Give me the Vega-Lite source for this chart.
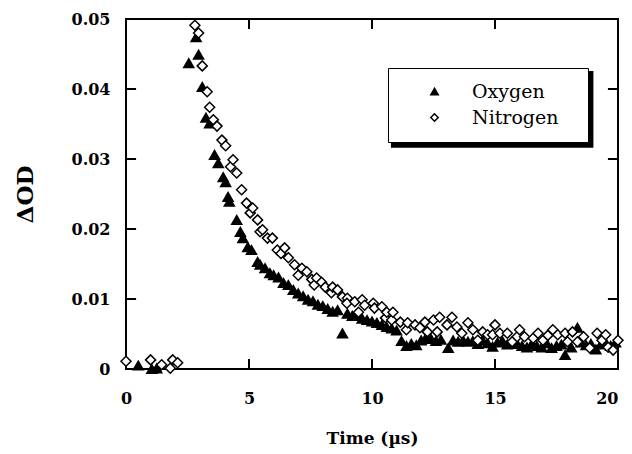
{
  "$schema": "https://vega.github.io/schema/vega-lite/v6.json",
  "width": 492,
  "height": 350,
  "autosize": {"type": "none"},
  "padding": {"left": 126, "top": 19, "right": 14, "bottom": 85},
  "background": "white",
  "config": {
    "view": {"stroke": "black", "strokeWidth": 2},
    "legend": {"strokeColor": "black", "fillColor": "white"},
    "axis": {
      "domain": false, "grid": false, "ticks": false,
      "labelFont": "DejaVu Serif", "labelFontWeight": "bold", "labelFontSize": 16, "labelColor": "black",
      "titleFont": "DejaVu Serif", "titleFontWeight": "bold", "titleColor": "black"
    }
  },
  "datasets": {
    "xt": [{"v": 5}, {"v": 10}, {"v": 15}],
    "yt": [{"v": 0.01}, {"v": 0.02}, {"v": 0.03}, {"v": 0.04}],
    "obs": [
      {"t": 0.5, "od": 0.0005, "gas": "Oxygen"},
      {"t": 1.05, "od": 0.0000, "gas": "Oxygen"},
      {"t": 1.25, "od": 0.0001, "gas": "Oxygen"},
      {"t": 2.55, "od": 0.0437, "gas": "Oxygen"},
      {"t": 2.85, "od": 0.0474, "gas": "Oxygen"},
      {"t": 2.95, "od": 0.0449, "gas": "Oxygen"},
      {"t": 3.1, "od": 0.0403, "gas": "Oxygen"},
      {"t": 3.25, "od": 0.0359, "gas": "Oxygen"},
      {"t": 3.4, "od": 0.0351, "gas": "Oxygen"},
      {"t": 3.6, "od": 0.0306, "gas": "Oxygen"},
      {"t": 3.75, "od": 0.0294, "gas": "Oxygen"},
      {"t": 3.95, "od": 0.0274, "gas": "Oxygen"},
      {"t": 4.05, "od": 0.0267, "gas": "Oxygen"},
      {"t": 4.15, "od": 0.0246, "gas": "Oxygen"},
      {"t": 4.2, "od": 0.0239, "gas": "Oxygen"},
      {"t": 4.5, "od": 0.0213, "gas": "Oxygen"},
      {"t": 4.65, "od": 0.0196, "gas": "Oxygen"},
      {"t": 4.75, "od": 0.0187, "gas": "Oxygen"},
      {"t": 4.95, "od": 0.0174, "gas": "Oxygen"},
      {"t": 5.1, "od": 0.0170, "gas": "Oxygen"},
      {"t": 5.35, "od": 0.0153, "gas": "Oxygen"},
      {"t": 5.45, "od": 0.0149, "gas": "Oxygen"},
      {"t": 5.65, "od": 0.0144, "gas": "Oxygen"},
      {"t": 5.85, "od": 0.0137, "gas": "Oxygen"},
      {"t": 6.0, "od": 0.0134, "gas": "Oxygen"},
      {"t": 6.2, "od": 0.0131, "gas": "Oxygen"},
      {"t": 6.4, "od": 0.0123, "gas": "Oxygen"},
      {"t": 6.6, "od": 0.0120, "gas": "Oxygen"},
      {"t": 6.8, "od": 0.0113, "gas": "Oxygen"},
      {"t": 7.0, "od": 0.0108, "gas": "Oxygen"},
      {"t": 7.2, "od": 0.0104, "gas": "Oxygen"},
      {"t": 7.4, "od": 0.0099, "gas": "Oxygen"},
      {"t": 7.6, "od": 0.0097, "gas": "Oxygen"},
      {"t": 7.8, "od": 0.0092, "gas": "Oxygen"},
      {"t": 8.0, "od": 0.0090, "gas": "Oxygen"},
      {"t": 8.2, "od": 0.0086, "gas": "Oxygen"},
      {"t": 8.4, "od": 0.0082, "gas": "Oxygen"},
      {"t": 8.6, "od": 0.0084, "gas": "Oxygen"},
      {"t": 8.8, "od": 0.0051, "gas": "Oxygen"},
      {"t": 9.0, "od": 0.0079, "gas": "Oxygen"},
      {"t": 9.2, "od": 0.0076, "gas": "Oxygen"},
      {"t": 9.4, "od": 0.0077, "gas": "Oxygen"},
      {"t": 9.6, "od": 0.0072, "gas": "Oxygen"},
      {"t": 9.8, "od": 0.0070, "gas": "Oxygen"},
      {"t": 10.0, "od": 0.0068, "gas": "Oxygen"},
      {"t": 10.2, "od": 0.0066, "gas": "Oxygen"},
      {"t": 10.4, "od": 0.0063, "gas": "Oxygen"},
      {"t": 10.6, "od": 0.0060, "gas": "Oxygen"},
      {"t": 10.8, "od": 0.0058, "gas": "Oxygen"},
      {"t": 11.0, "od": 0.0055, "gas": "Oxygen"},
      {"t": 11.2, "od": 0.0040, "gas": "Oxygen"},
      {"t": 11.4, "od": 0.0033, "gas": "Oxygen"},
      {"t": 11.6, "od": 0.0036, "gas": "Oxygen"},
      {"t": 11.8, "od": 0.0034, "gas": "Oxygen"},
      {"t": 12.0, "od": 0.0041, "gas": "Oxygen"},
      {"t": 12.2, "od": 0.0045, "gas": "Oxygen"},
      {"t": 12.4, "od": 0.0043, "gas": "Oxygen"},
      {"t": 12.6, "od": 0.0040, "gas": "Oxygen"},
      {"t": 12.8, "od": 0.0042, "gas": "Oxygen"},
      {"t": 13.1, "od": 0.0030, "gas": "Oxygen"},
      {"t": 13.3, "od": 0.0041, "gas": "Oxygen"},
      {"t": 13.5, "od": 0.0039, "gas": "Oxygen"},
      {"t": 13.7, "od": 0.0041, "gas": "Oxygen"},
      {"t": 13.9, "od": 0.0039, "gas": "Oxygen"},
      {"t": 14.1, "od": 0.0040, "gas": "Oxygen"},
      {"t": 14.3, "od": 0.0036, "gas": "Oxygen"},
      {"t": 14.5, "od": 0.0041, "gas": "Oxygen"},
      {"t": 14.7, "od": 0.0037, "gas": "Oxygen"},
      {"t": 14.9, "od": 0.0032, "gas": "Oxygen"},
      {"t": 15.1, "od": 0.0038, "gas": "Oxygen"},
      {"t": 15.3, "od": 0.0040, "gas": "Oxygen"},
      {"t": 15.5, "od": 0.0035, "gas": "Oxygen"},
      {"t": 15.7, "od": 0.0038, "gas": "Oxygen"},
      {"t": 15.9, "od": 0.0036, "gas": "Oxygen"},
      {"t": 16.1, "od": 0.0033, "gas": "Oxygen"},
      {"t": 16.3, "od": 0.0031, "gas": "Oxygen"},
      {"t": 16.5, "od": 0.0036, "gas": "Oxygen"},
      {"t": 16.7, "od": 0.0033, "gas": "Oxygen"},
      {"t": 16.9, "od": 0.0031, "gas": "Oxygen"},
      {"t": 17.1, "od": 0.0037, "gas": "Oxygen"},
      {"t": 17.3, "od": 0.0030, "gas": "Oxygen"},
      {"t": 17.5, "od": 0.0033, "gas": "Oxygen"},
      {"t": 17.7, "od": 0.0035, "gas": "Oxygen"},
      {"t": 17.85, "od": 0.0020, "gas": "Oxygen"},
      {"t": 18.1, "od": 0.0031, "gas": "Oxygen"},
      {"t": 18.35, "od": 0.0059, "gas": "Oxygen"},
      {"t": 18.5, "od": 0.0038, "gas": "Oxygen"},
      {"t": 18.7, "od": 0.0034, "gas": "Oxygen"},
      {"t": 18.9, "od": 0.0036, "gas": "Oxygen"},
      {"t": 19.1, "od": 0.0028, "gas": "Oxygen"},
      {"t": 19.3, "od": 0.0035, "gas": "Oxygen"},
      {"t": 19.5, "od": 0.0037, "gas": "Oxygen"},
      {"t": 19.7, "od": 0.0033, "gas": "Oxygen"},
      {"t": 19.9, "od": 0.0038, "gas": "Oxygen"},
      {"t": 0.0, "od": 0.0011, "gas": "Nitrogen"},
      {"t": 1.0, "od": 0.0013, "gas": "Nitrogen"},
      {"t": 1.45, "od": 0.0006, "gas": "Nitrogen"},
      {"t": 1.8, "od": 0.0001, "gas": "Nitrogen"},
      {"t": 1.9, "od": 0.0013, "gas": "Nitrogen"},
      {"t": 2.1, "od": 0.0009, "gas": "Nitrogen"},
      {"t": 2.8, "od": 0.0491, "gas": "Nitrogen"},
      {"t": 2.95, "od": 0.0480, "gas": "Nitrogen"},
      {"t": 3.1, "od": 0.0433, "gas": "Nitrogen"},
      {"t": 3.3, "od": 0.0396, "gas": "Nitrogen"},
      {"t": 3.4, "od": 0.0374, "gas": "Nitrogen"},
      {"t": 3.55, "od": 0.0356, "gas": "Nitrogen"},
      {"t": 3.7, "od": 0.0347, "gas": "Nitrogen"},
      {"t": 3.9, "od": 0.0327, "gas": "Nitrogen"},
      {"t": 4.05, "od": 0.0319, "gas": "Nitrogen"},
      {"t": 4.25, "od": 0.0289, "gas": "Nitrogen"},
      {"t": 4.35, "od": 0.0299, "gas": "Nitrogen"},
      {"t": 4.5, "od": 0.0280, "gas": "Nitrogen"},
      {"t": 4.7, "od": 0.0256, "gas": "Nitrogen"},
      {"t": 4.9, "od": 0.0237, "gas": "Nitrogen"},
      {"t": 5.05, "od": 0.0223, "gas": "Nitrogen"},
      {"t": 5.15, "od": 0.0230, "gas": "Nitrogen"},
      {"t": 5.35, "od": 0.0213, "gas": "Nitrogen"},
      {"t": 5.45, "od": 0.0196, "gas": "Nitrogen"},
      {"t": 5.55, "od": 0.0199, "gas": "Nitrogen"},
      {"t": 5.75, "od": 0.0187, "gas": "Nitrogen"},
      {"t": 5.95, "od": 0.0187, "gas": "Nitrogen"},
      {"t": 6.15, "od": 0.0170, "gas": "Nitrogen"},
      {"t": 6.3, "od": 0.0165, "gas": "Nitrogen"},
      {"t": 6.45, "od": 0.0173, "gas": "Nitrogen"},
      {"t": 6.6, "od": 0.0159, "gas": "Nitrogen"},
      {"t": 6.85, "od": 0.0149, "gas": "Nitrogen"},
      {"t": 7.0, "od": 0.0134, "gas": "Nitrogen"},
      {"t": 7.15, "od": 0.0144, "gas": "Nitrogen"},
      {"t": 7.35, "od": 0.0139, "gas": "Nitrogen"},
      {"t": 7.55, "od": 0.0128, "gas": "Nitrogen"},
      {"t": 7.65, "od": 0.0120, "gas": "Nitrogen"},
      {"t": 7.75, "od": 0.0130, "gas": "Nitrogen"},
      {"t": 7.95, "od": 0.0124, "gas": "Nitrogen"},
      {"t": 8.1, "od": 0.0117, "gas": "Nitrogen"},
      {"t": 8.35, "od": 0.0109, "gas": "Nitrogen"},
      {"t": 8.4, "od": 0.0117, "gas": "Nitrogen"},
      {"t": 8.6, "od": 0.0113, "gas": "Nitrogen"},
      {"t": 8.8, "od": 0.0103, "gas": "Nitrogen"},
      {"t": 9.0, "od": 0.0101, "gas": "Nitrogen"},
      {"t": 8.98, "od": 0.0094, "gas": "Nitrogen"},
      {"t": 9.3, "od": 0.0096, "gas": "Nitrogen"},
      {"t": 9.45, "od": 0.0081, "gas": "Nitrogen"},
      {"t": 9.6, "od": 0.0099, "gas": "Nitrogen"},
      {"t": 9.7, "od": 0.0091, "gas": "Nitrogen"},
      {"t": 10.05, "od": 0.0094, "gas": "Nitrogen"},
      {"t": 10.1, "od": 0.0087, "gas": "Nitrogen"},
      {"t": 10.4, "od": 0.0089, "gas": "Nitrogen"},
      {"t": 10.55, "od": 0.0073, "gas": "Nitrogen"},
      {"t": 10.6, "od": 0.0081, "gas": "Nitrogen"},
      {"t": 10.8, "od": 0.0070, "gas": "Nitrogen"},
      {"t": 10.85, "od": 0.0081, "gas": "Nitrogen"},
      {"t": 11.15, "od": 0.0067, "gas": "Nitrogen"},
      {"t": 11.4, "od": 0.0056, "gas": "Nitrogen"},
      {"t": 11.45, "od": 0.0066, "gas": "Nitrogen"},
      {"t": 11.75, "od": 0.0063, "gas": "Nitrogen"},
      {"t": 11.95, "od": 0.0059, "gas": "Nitrogen"},
      {"t": 12.15, "od": 0.0067, "gas": "Nitrogen"},
      {"t": 12.25, "od": 0.0053, "gas": "Nitrogen"},
      {"t": 12.5, "od": 0.0070, "gas": "Nitrogen"},
      {"t": 12.65, "od": 0.0053, "gas": "Nitrogen"},
      {"t": 12.75, "od": 0.0074, "gas": "Nitrogen"},
      {"t": 13.05, "od": 0.0063, "gas": "Nitrogen"},
      {"t": 13.25, "od": 0.0074, "gas": "Nitrogen"},
      {"t": 13.45, "od": 0.0060, "gas": "Nitrogen"},
      {"t": 13.65, "od": 0.0051, "gas": "Nitrogen"},
      {"t": 13.9, "od": 0.0066, "gas": "Nitrogen"},
      {"t": 14.1, "od": 0.0056, "gas": "Nitrogen"},
      {"t": 14.3, "od": 0.0041, "gas": "Nitrogen"},
      {"t": 14.5, "od": 0.0053, "gas": "Nitrogen"},
      {"t": 14.7, "od": 0.0049, "gas": "Nitrogen"},
      {"t": 14.9, "od": 0.0049, "gas": "Nitrogen"},
      {"t": 15.0, "od": 0.0063, "gas": "Nitrogen"},
      {"t": 15.2, "od": 0.0051, "gas": "Nitrogen"},
      {"t": 15.5, "od": 0.0051, "gas": "Nitrogen"},
      {"t": 15.7, "od": 0.0039, "gas": "Nitrogen"},
      {"t": 15.9, "od": 0.0046, "gas": "Nitrogen"},
      {"t": 16.0, "od": 0.0056, "gas": "Nitrogen"},
      {"t": 16.2, "od": 0.0046, "gas": "Nitrogen"},
      {"t": 16.55, "od": 0.0044, "gas": "Nitrogen"},
      {"t": 16.75, "od": 0.0051, "gas": "Nitrogen"},
      {"t": 16.95, "od": 0.0041, "gas": "Nitrogen"},
      {"t": 17.15, "od": 0.0048, "gas": "Nitrogen"},
      {"t": 17.35, "od": 0.0056, "gas": "Nitrogen"},
      {"t": 17.55, "od": 0.0049, "gas": "Nitrogen"},
      {"t": 17.85, "od": 0.0051, "gas": "Nitrogen"},
      {"t": 17.95, "od": 0.0039, "gas": "Nitrogen"},
      {"t": 18.15, "od": 0.0053, "gas": "Nitrogen"},
      {"t": 18.35, "od": 0.0039, "gas": "Nitrogen"},
      {"t": 18.6, "od": 0.0046, "gas": "Nitrogen"},
      {"t": 18.85, "od": 0.0030, "gas": "Nitrogen"},
      {"t": 19.15, "od": 0.0051, "gas": "Nitrogen"},
      {"t": 19.35, "od": 0.0041, "gas": "Nitrogen"},
      {"t": 19.5, "od": 0.0049, "gas": "Nitrogen"},
      {"t": 19.6, "od": 0.0031, "gas": "Nitrogen"},
      {"t": 19.8, "od": 0.0027, "gas": "Nitrogen"},
      {"t": 20.0, "od": 0.0041, "gas": "Nitrogen"}
    ]
  },
  "layer": [
    {
      "data": {"values": [{}]},
      "mark": {"type": "rect", "fill": "black"},
      "encoding": {
        "x": {"datum": 10.77, "type": "quantitative", "scale": {"domain": [0, 20], "nice": false, "zero": false}, "axis": null},
        "x2": {"datum": 19.0},
        "y": {"datum": 0.04257, "type": "quantitative", "scale": {"domain": [0, 0.05], "nice": false}, "axis": null},
        "y2": {"datum": 0.0316}
      }
    },
    {
      "data": {"name": "obs"},
      "mark": {"type": "point", "filled": true, "size": 100, "strokeWidth": 1.5, "opacity": 1, "clip": false},
      "encoding": {
        "x": {
          "field": "t", "type": "quantitative",
          "scale": {"domain": [0, 20], "nice": false, "zero": false},
          "axis": {
            "orient": "bottom", "values": [0, 5, 10, 15, 20], "title": "Time (µs)", "titleFontSize": 17,
            "ticks": false, "labelPadding": 21, "titlePadding": 24, "labelFlush": false,
            "labelAlign": {"condition": {"test": "datum.value == 20", "value": "right"}, "value": "center"}
          }
        },
        "y": {
          "field": "od", "type": "quantitative",
          "scale": {"domain": [0, 0.05], "nice": false},
          "axis": {
            "orient": "left", "values": [0, 0.01, 0.02, 0.03, 0.04, 0.05], "title": "ΔOD", "titleFontSize": 23,
            "ticks": false, "labelPadding": 16, "titlePadding": 34,
            "labelExpr": "datum.value == 0 ? '0' : format(datum.value, '.2f')"
          }
        },
        "shape": {
          "field": "gas", "type": "nominal",
          "scale": {"domain": ["Oxygen", "Nitrogen"], "range": ["triangle-up", "diamond"]},
          "legend": {
            "title": ".", "titleOrient": "right", "titleOpacity": 0, "titleFontSize": 2, "titlePadding": 14,
            "orient": "none", "legendX": 262, "legendY": 49, "direction": "vertical",
            "padding": 14, "strokeColor": "black", "fillColor": "white",
            "symbolOffset": 23, "labelOffset": 28, "rowPadding": 6,
            "labelFont": "DejaVu Serif", "labelFontSize": 19, "labelColor": "black", "labelFontWeight": "normal",
            "symbolSize": 55, "symbolStrokeWidth": 1.5
          }
        },
        "fill": {
          "field": "gas", "type": "nominal",
          "scale": {"domain": ["Oxygen", "Nitrogen"], "range": ["black", "white"]}
        },
        "stroke": {
          "field": "gas", "type": "nominal",
          "scale": {"domain": ["Oxygen", "Nitrogen"], "range": ["black", "black"]}
        }
      }
    },
    {
      "data": {"name": "xt"},
      "mark": {"type": "rule", "stroke": "black", "strokeWidth": 2},
      "encoding": {
        "x": {"field": "v", "type": "quantitative", "scale": {"domain": [0, 20], "nice": false, "zero": false}, "axis": null},
        "y": {"datum": 0, "type": "quantitative", "scale": {"domain": [0, 0.05], "nice": false}, "axis": null},
        "y2": {"datum": 0.00143}
      }
    },
    {
      "data": {"name": "xt"},
      "mark": {"type": "rule", "stroke": "black", "strokeWidth": 2},
      "encoding": {
        "x": {"field": "v", "type": "quantitative", "scale": {"domain": [0, 20], "nice": false, "zero": false}, "axis": null},
        "y": {"datum": 0.05, "type": "quantitative", "scale": {"domain": [0, 0.05], "nice": false}, "axis": null},
        "y2": {"datum": 0.04857}
      }
    },
    {
      "data": {"name": "yt"},
      "mark": {"type": "rule", "stroke": "black", "strokeWidth": 2},
      "encoding": {
        "y": {"field": "v", "type": "quantitative", "scale": {"domain": [0, 0.05], "nice": false}, "axis": null},
        "x": {"datum": 0, "type": "quantitative", "scale": {"domain": [0, 20], "nice": false, "zero": false}, "axis": null},
        "x2": {"datum": 0.41}
      }
    },
    {
      "data": {"name": "yt"},
      "mark": {"type": "rule", "stroke": "black", "strokeWidth": 2},
      "encoding": {
        "y": {"field": "v", "type": "quantitative", "scale": {"domain": [0, 0.05], "nice": false}, "axis": null},
        "x": {"datum": 20, "type": "quantitative", "scale": {"domain": [0, 20], "nice": false, "zero": false}, "axis": null},
        "x2": {"datum": 19.59}
      }
    }
  ],
  "resolve": {"axis": {"x": "independent", "y": "independent"}}
}
